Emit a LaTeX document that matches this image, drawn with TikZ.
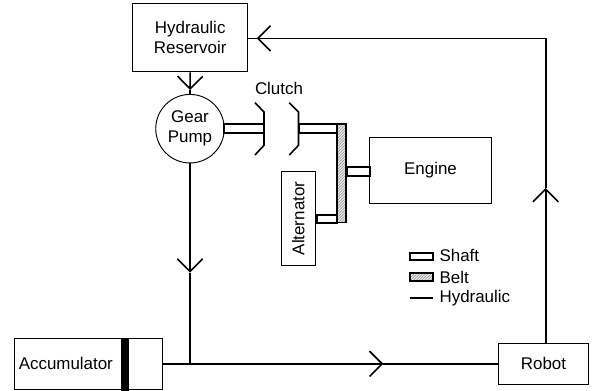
\documentclass[tikz,border=0pt]{standalone}
\usepackage{fontspec}
\setmainfont{Liberation Sans}
\usetikzlibrary{arrows.meta,patterns.meta}

\begin{document}
\begin{tikzpicture}[
  x=0.75pt,y=-0.75pt,
  blk/.style={draw,line width=0.7pt,inner sep=0pt,align=center,font=\fontsize{12.7}{15}\selectfont},
  shaft/.style={draw,line width=1.4pt,inner sep=0pt,fill=white},
  belt/.style={draw,line width=1.3pt,inner sep=0pt,preaction={fill=black!8},pattern={Lines[angle=45,distance=1.5pt,line width=0.4pt]},pattern color=black!45},
  plate/.style={line width=1.2pt},
  hyd/.style={line width=1.2pt},
  ar/.style={hyd,-{Straight Barb[length=9.5pt,width=19pt,line width=1.2pt]}},
  lbl/.style={font=\fontsize{12.7}{15}\selectfont,inner sep=0pt}
]
\useasboundingbox (0,0) rectangle (594,391);
% hydraulic circuit parts
\node[blk,minimum width=86.6pt,minimum height=51.4pt] (res) at (190.2,37.7) {Hydraulic\\Reservoir};
\node[blk,circle,minimum size=51.4pt] (pump) at (190,128.7) {Gear\\Pump};
\node[blk,minimum width=110.7pt,minimum height=38.2pt] (acc) at (88.5,363.8) {\hspace*{-34pt}Accumulator};
\node[blk,minimum width=67.8pt,minimum height=30.8pt] (robot) at (543.5,363.8) {Robot};
\node[draw=black,fill=black,inner sep=0pt,minimum width=5.3pt,minimum height=39pt] (piston) at (124.6,364) {};
% drive line
\node[shaft,minimum width=30pt,minimum height=6.4pt] (s1) at (244,128.5) {};
\node[shaft,minimum width=29pt,minimum height=6.4pt] (s2) at (318,128.5) {};
\node[shaft,minimum width=17pt,minimum height=6.4pt] (s3) at (358.5,171.5) {};
\node[shaft,minimum width=15.5pt,minimum height=6pt] (s4) at (327,218.7) {};
\node[belt,minimum width=6.3pt,minimum height=74pt] (bt) at (341.5,173.3) {};
\node[blk,minimum width=91.8pt,minimum height=49.8pt] (eng) at (430.5,170.5) {Engine};
\node[blk,minimum width=25.7pt,minimum height=70.8pt] (alt) at (298.2,218.5) {\rotatebox{90}{Alternator}};
% clutch
\coordinate (c1a) at (255,102.7);
\coordinate (c1b) at (264,112);
\coordinate (c1c) at (264,145.3);
\coordinate (c1d) at (255,155);
\coordinate (c2a) at (289.3,102.7);
\coordinate (c2b) at (298.5,112);
\coordinate (c2c) at (298.5,145.3);
\coordinate (c2d) at (289.3,155);
\draw[plate] (c1a) -- (c1b) -- (c1c) -- (c1d);
\draw[plate] (c2a) -- (c2b) -- (c2c) -- (c2d);
\node[lbl] (clutch) at (279,88.5) {Clutch};
% flow lines
\coordinate (j1) at (pump.south |- acc.east);
\coordinate (t1) at (190,90);
\coordinate (t2) at (190,272.7);
\coordinate (t3) at (383.3,363.8);
\coordinate (t4) at (545.7,188);
\coordinate (t5) at (256.7,38.4);
\coordinate (k1) at (545.7,38.4);
\coordinate (r1) at (545.7,343.3);
\draw[ar] (res.south) -- (t1);
\draw[hyd] (t1) -- (pump.north);
\draw[ar] (pump.south) -- (t2);
\draw[hyd] (t2) -- (j1);
\draw[ar] (acc.east) -- (t3);
\draw[hyd] (t3) -- (robot.west);
\draw[ar] (r1) -- (t4);
\draw[hyd] (t4) -- (k1);
\draw[ar] (k1) -- (t5);
\draw[hyd] (t5) -- (res.east |- t5);
% legend
\node[shaft,minimum width=17pt,minimum height=5.5pt] (k2) at (421.3,256.3) {};
\node[belt,minimum width=17pt,minimum height=5.5pt] (k3) at (421.3,277) {};
\coordinate (k4a) at (409.5,298);
\coordinate (k4b) at (433.3,298);
\draw[hyd] (k4a) -- (k4b);
\node[lbl,anchor=west] (ks) at (439.3,255.7) {Shaft};
\node[lbl,anchor=west] (kb) at (439.3,277.5) {Belt};
\node[lbl,anchor=west] (kh) at (439.3,298) {Hydraulic};
\end{tikzpicture}
\end{document}
